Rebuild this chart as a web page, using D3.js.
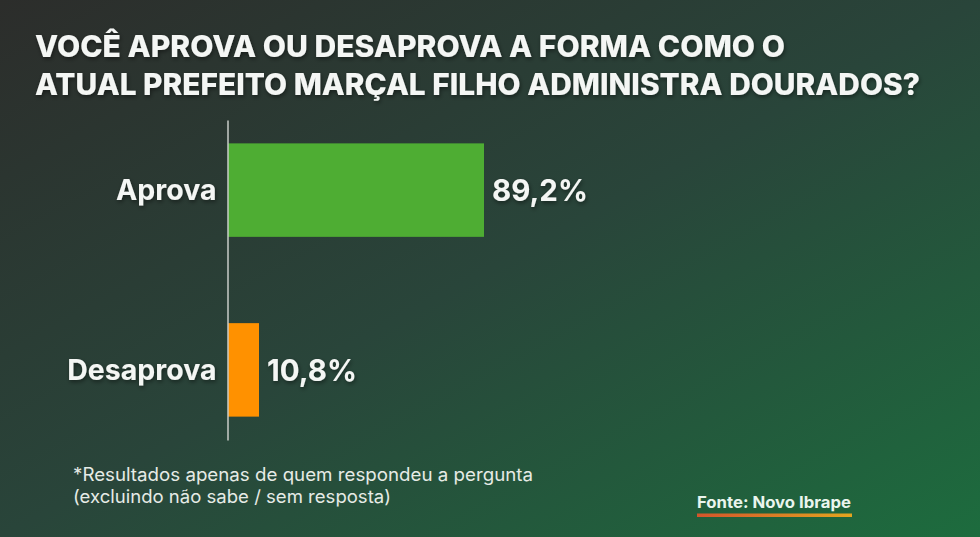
<!DOCTYPE html>
<html>
<head>
    <meta charset="utf-8" />
    <title>Aprovação Marçal Filho</title>
    <style>
        body { margin: 0; background: #263a30; }
        svg text { font-family: Inter, "Open Sans", sans-serif; }
    </style>
</head>
<body>
    <div id="chart"></div>
    <script src="https://cdn.jsdelivr.net/npm/d3@7"></script>
    <script>
        // data
        var categories = ["Aprova", "Desaprova"];
        var values = [89.2, 10.8];
        var valueLabels = ["89,2%", "10,8%"];
        var titleLines = [
            "VOCÊ APROVA OU DESAPROVA A FORMA COMO O",
            "ATUAL PREFEITO MARÇAL FILHO ADMINISTRA DOURADOS?"
        ];
        var noteLines = [
            "*Resultados apenas de quem respondeu a pergunta",
            "(excluindo não sabe / sem resposta)"
        ];
        var source = "Fonte: Novo Ibrape";

        var width = 980, height = 537;

        var svg = d3.select("#chart").append("svg")
            .attr("width", width)
            .attr("height", height);

        var defs = svg.append("defs");
        var bg = defs.append("linearGradient").attr("id", "bg")
            .attr("x1", 0).attr("y1", 0).attr("x2", 1).attr("y2", 1);
        bg.append("stop").attr("offset", "0%").attr("stop-color", "#2c2d2b");
        bg.append("stop").attr("offset", "50%").attr("stop-color", "#29453a");
        bg.append("stop").attr("offset", "100%").attr("stop-color", "#1d6c3e");

        var ul = defs.append("linearGradient").attr("id", "ul");
        ul.append("stop").attr("offset", "0%").attr("stop-color", "#d4552b");
        ul.append("stop").attr("offset", "100%").attr("stop-color", "#e4a51f");

        var shadow = defs.append("filter").attr("id", "shadow")
            .attr("x", "-5%").attr("y", "-20%").attr("width", "110%").attr("height", "140%");
        shadow.append("feDropShadow").attr("dx", 1).attr("dy", 2)
            .attr("stdDeviation", 2).attr("flood-color", "#000").attr("flood-opacity", 0.45);

        svg.append("rect").attr("width", width).attr("height", height).attr("fill", "url(#bg)");

        // title
        var titleWidths = [750, 885];
        svg.append("g").attr("filter", "url(#shadow)")
            .selectAll("text")
            .data(titleLines)
            .join("text")
            .attr("x", 35)
            .attr("y", (d, i) => 57 + i * 38)
            .attr("textLength", (d, i) => titleWidths[i])
            .attr("lengthAdjust", "spacingAndGlyphs")
            .attr("fill", "#f4f6f4")
            .attr("font-size", 29.5)
            .attr("font-weight", 800)
            .text(d => d);

        // scales
        var x = d3.scaleLinear().domain([0, 100]).range([228, 515]);
        var y = d3.scaleBand().domain(categories).range([120, 440])
            .paddingInner(0.48).paddingOuter(0.13);
        var color = d3.scaleOrdinal().domain(categories).range(["#4ead33", "#ff9100"]);

        // bars
        svg.append("g")
            .selectAll("rect")
            .data(values)
            .join("rect")
            .attr("x", x(0))
            .attr("y", (d, i) => y(categories[i]))
            .attr("width", d => x(d) - x(0))
            .attr("height", y.bandwidth())
            .attr("fill", (d, i) => color(categories[i]));

        // axis
        var yAxis = d3.axisLeft(y).tickSize(0).tickSizeOuter(0).tickPadding(11);
        var axisG = svg.append("g")
            .attr("transform", "translate(" + (x(0) - 0.5) + ",0)")
            .call(yAxis);
        axisG.select(".domain").attr("stroke", "#c9ccc9").attr("stroke-width", 1.5);
        axisG.selectAll(".tick text")
            .attr("fill", "#f4f6f4")
            .attr("font-size", 28.5)
            .attr("font-weight", 700)
            .attr("font-family", "Inter, sans-serif")
            .attr("dy", "0.36em")
            .attr("filter", "url(#shadow)");

        // value labels
        svg.append("g").attr("filter", "url(#shadow)")
            .selectAll("text")
            .data(values)
            .join("text")
            .attr("x", d => x(d) + 8)
            .attr("y", (d, i) => y(categories[i]) + y.bandwidth() / 2)
            .attr("dy", "0.36em")
            .attr("fill", "#f4f6f4")
            .attr("font-size", 29.5)
            .attr("font-weight", 700)
            .text((d, i) => valueLabels[i]);

        // footnote
        var noteWidths = [460, 318];
        svg.append("g")
            .selectAll("text")
            .data(noteLines)
            .join("text")
            .attr("x", 73)
            .attr("y", (d, i) => 481 + i * 22)
            .attr("textLength", (d, i) => noteWidths[i])
            .attr("lengthAdjust", "spacingAndGlyphs")
            .attr("fill", "#e6ebe6")
            .attr("font-size", 18)
            .attr("font-weight", 400)
            .text(d => d);

        // source
        svg.append("text")
            .attr("x", 697)
            .attr("y", 508)
            .attr("textLength", 154)
            .attr("lengthAdjust", "spacingAndGlyphs")
            .attr("fill", "#eaf5ee")
            .attr("font-size", 16)
            .attr("font-weight", 700)
            .text(source);
        svg.append("rect")
            .attr("x", 697).attr("y", 513.5)
            .attr("width", 155).attr("height", 3.5)
            .attr("fill", "url(#ul)");
    </script>
</body>
</html>
